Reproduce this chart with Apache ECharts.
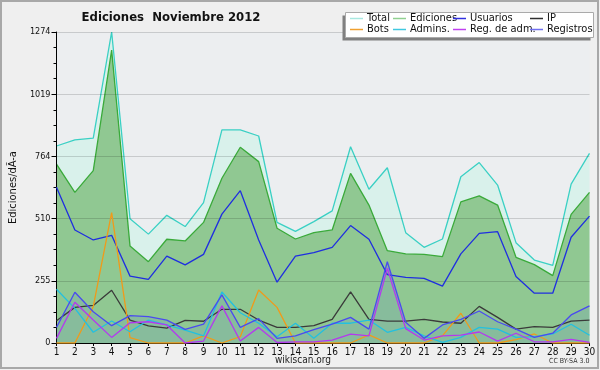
<!DOCTYPE html>
<html><head><meta charset="utf-8">
<script src="https://cdn.jsdelivr.net/npm/echarts@6/dist/echarts.min.js"></script>
<style>html,body{margin:0;padding:0;background:#efefef}#c{width:600px;height:370px}</style>
</head><body><div id="c"></div>
<script>
const days = ['1','2','3','4','5','6','7','8','9','10','11','12','13','14','15','16','17','18','19','20','21','22','23','24','25','26','27','28','29','30'];
const total      = [807,832,839,1274,509,446,523,477,575,873,873,848,494,457,497,541,804,630,718,452,392,426,681,739,647,411,340,318,651,777];
const ediciones  = [733,617,706,1200,397,333,425,418,494,675,802,743,470,426,452,463,695,565,378,365,363,354,578,603,565,351,321,276,527,617];
const usuarios   = [638,463,422,441,274,261,356,320,363,528,624,422,249,356,370,392,481,425,280,269,265,233,365,449,456,272,204,204,433,520];
const ip         = [91,146,154,216,94,70,61,93,89,138,138,94,64,64,71,97,209,97,90,90,97,86,81,150,105,57,67,64,90,94];
const bots       = [0,0,149,534,22,0,0,0,29,0,26,217,146,0,0,0,0,33,0,0,0,29,122,0,0,14,37,0,0,0];
const admins     = [220,142,44,90,46,94,74,53,29,209,124,81,26,81,19,81,81,94,44,64,29,3,23,64,57,23,26,37,77,32];
const regAdm     = [19,167,94,23,83,87,74,0,8,152,8,64,2,5,5,12,36,29,306,59,12,29,32,45,8,40,5,5,15,3];
const registros  = [64,208,128,71,112,108,94,56,77,197,64,100,19,29,55,77,105,57,333,85,19,74,97,131,87,57,23,40,115,152];
const yMax = 1274;
const yStep = 254.8;

const FONT = '"DejaVu Sans Condensed","DejaVu Sans",sans-serif';
const chart = echarts.init(document.getElementById('c'), null, {renderer:'canvas'});

function line(name, data, color, z, area) {
  const s = {name, type:'line', data, showSymbol:false, symbol:'none', z,
    lineStyle:{color, width:1.3}, itemStyle:{color}, emphasis:{disabled:true}};
  if (area) s.areaStyle = {color: area, opacity: 1};
  return s;
}
function leg(left, items) {
  return {left, top:13, orient:'vertical', itemGap:0, itemWidth:13, itemHeight:1.5, icon:'rect',
    padding:0, selectedMode:false,
    textStyle:{fontFamily:FONT, fontSize:11, color:'#111', lineHeight:10, padding:[0,0,0,-1]},
    data: items.map(([n,c]) => ({name:n, itemStyle:{color:c}}))};
}

chart.setOption({
  animation:false,
  backgroundColor:'#efefef',
  title:{text:'Ediciones  Noviembre 2012', left:166, textAlign:'center', top:6,
    textStyle:{fontFamily:FONT, fontSize:13, fontWeight:'bold', color:'#111'}},
  graphic:[
    {type:'rect', shape:{x:1,y:1,width:597,height:367}, style:{fill:null, stroke:'#a8a8a8', lineWidth:2}, z:0, silent:true},
    {type:'rect', shape:{x:342.5,y:15.5,width:248,height:25}, style:{fill:'#808080'}, z:50, silent:true},
    {type:'rect', shape:{x:345.5,y:12.5,width:248,height:25}, style:{fill:'#ffffff', stroke:'#aaaaaa', lineWidth:1}, z:51, silent:true},
    {type:'text', left:275, top:355, style:{text:'wikiscan.org', fontFamily:FONT, fontSize:10, fill:'#222'}, z:60},
    {type:'text', left:549, top:358, style:{text:'CC BY-SA 3.0', fontFamily:FONT, fontSize:7, fill:'#333'}, z:60}
  ],
  legend:[
    leg(350, [['Total','#a8e8e0'],['Bots','#f0a030']]),
    leg(393, [['Ediciones','#90d090'],['Admins.','#40c8e0']]),
    leg(453, [['Usuarios','#3030e0'],['Reg. de adm.','#c040f0']]),
    leg(530, [['IP','#303030'],['Registros','#7070f0']])
  ].map(l => Object.assign(l, {z:60})),
  grid:{left:46, right:10.5, top:32, bottom:27, show:true, backgroundColor:'#eceef0', borderWidth:0},
  xAxis:{type:'category', data:days, boundaryGap:false,
    axisLine:{lineStyle:{color:'#000', width:1}},
    axisTick:{show:true, alignWithLabel:true, length:3, lineStyle:{color:'#000'}},
    axisLabel:{interval:0, fontFamily:FONT, fontSize:10, color:'#111', margin:4},
    splitLine:{show:false}},
  yAxis:{type:'value', min:0, max:yMax, interval:yStep, z:3,
    name:'Ediciones/dÃ-a', nameLocation:'middle', nameGap:32, nameRotate:90,
    nameTextStyle:{fontFamily:FONT, fontSize:11, color:'#111'},
    axisLine:{show:true, lineStyle:{color:'#000', width:1}},
    axisTick:{show:true, length:5, lineStyle:{color:'#000'}},
    minorTick:{show:true, splitNumber:4, length:3, lineStyle:{color:'#000'}},
    axisLabel:{fontFamily:FONT, fontSize:9, color:'#111', margin:6, formatter:v=>String(Math.round(v))},
    splitLine:{show:true, lineStyle:{color:'rgba(0,0,0,0.15)', width:1}}},
  series:[
    line('Total', total, '#3ad0c4', 2, '#d9f1eb'),
    line('Ediciones', ediciones, '#3aaa3a', 2, '#90c892'),
    line('Usuarios', usuarios, '#1f2ee0', 4),
    line('IP', ip, '#3a3a3a', 4),
    line('Bots', bots, '#f09a1a', 4),
    line('Admins.', admins, '#22c0e0', 4),
    line('Reg. de adm.', regAdm, '#b438f0', 4),
    line('Registros', registros, '#4a4af0', 4, 'rgba(100,140,200,0.2)')
  ]
});
</script></body></html>
